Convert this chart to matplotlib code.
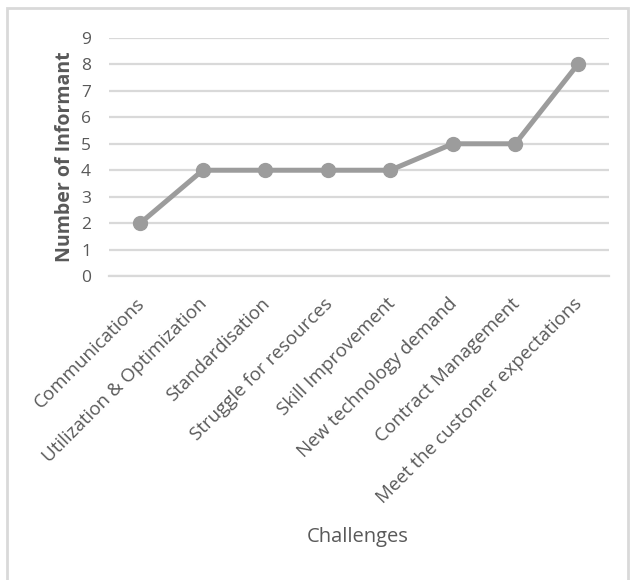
import matplotlib
matplotlib.use("Agg")
import matplotlib.pyplot as plt
import matplotlib.transforms as mtransforms
from matplotlib.patches import Rectangle

# challenges raised by informants
challenges = [
    "Communications",
    "Utilization & Optimization",
    "Standardisation",
    "Struggle for resources",
    "Skill Improvement",
    "New technology demand",
    "Contract Management",
    "Meet the customer expectations",
]
informants = [2, 4, 4, 4, 4, 5, 5, 8]
y_ticks = list(range(0, 10))

plt.rcParams["font.family"] = ["Open Sans", "DejaVu Sans"]
text_color = "#595959"
grid_color = "#D9D9D9"
line_color = "#9C9C9C"

fig = plt.figure(figsize=(6.32, 5.8), dpi=100)
ax = fig.add_axes([0.1725, 0.5241, 0.7911, 0.4104])

x = list(range(len(challenges)))
ax.plot(x, informants, color=line_color, linewidth=3.6, marker="o",
        markersize=10, solid_capstyle="round", zorder=3)

ax.set_xlim(-0.5, len(challenges) - 0.5)
ax.set_ylim(0, 9)
ax.set_yticks(y_ticks)
ax.yaxis.grid(True, color=grid_color, linewidth=1.6)
ax.set_axisbelow(True)
for side in ["top", "right", "left"]:
    ax.spines[side].set_visible(False)
ax.spines["bottom"].set_color(grid_color)
ax.spines["bottom"].set_linewidth(1.6)
ax.tick_params(axis="y", length=0, colors=text_color, labelsize=12.5, pad=13)
ax.tick_params(axis="x", length=0, colors=text_color, labelsize=13.5, pad=18)

ax.set_xticks(x)
ax.set_xticklabels(challenges, rotation=45, ha="right", va="center",
                   rotation_mode="anchor")
# nudge the slanted labels so their upper ends meet the tick positions
shift = mtransforms.ScaledTranslation(0.02, 0, fig.dpi_scale_trans)
for lbl in ax.get_xticklabels():
    lbl.set_transform(lbl.get_transform() + shift)

ax.set_ylabel("Number of Informant", fontsize=14, fontweight="bold",
              color=text_color, labelpad=4)
fig.text(0.566, 0.074, "Challenges", fontsize=14.5, color=text_color,
         ha="center", va="center")

# light frame around the whole chart
fig.patches.append(Rectangle((0.011, -0.05), 0.982, 1.036, transform=fig.transFigure,
                             fill=False, edgecolor=grid_color, linewidth=2))

fig.savefig("out.png", dpi=100, facecolor="white")
